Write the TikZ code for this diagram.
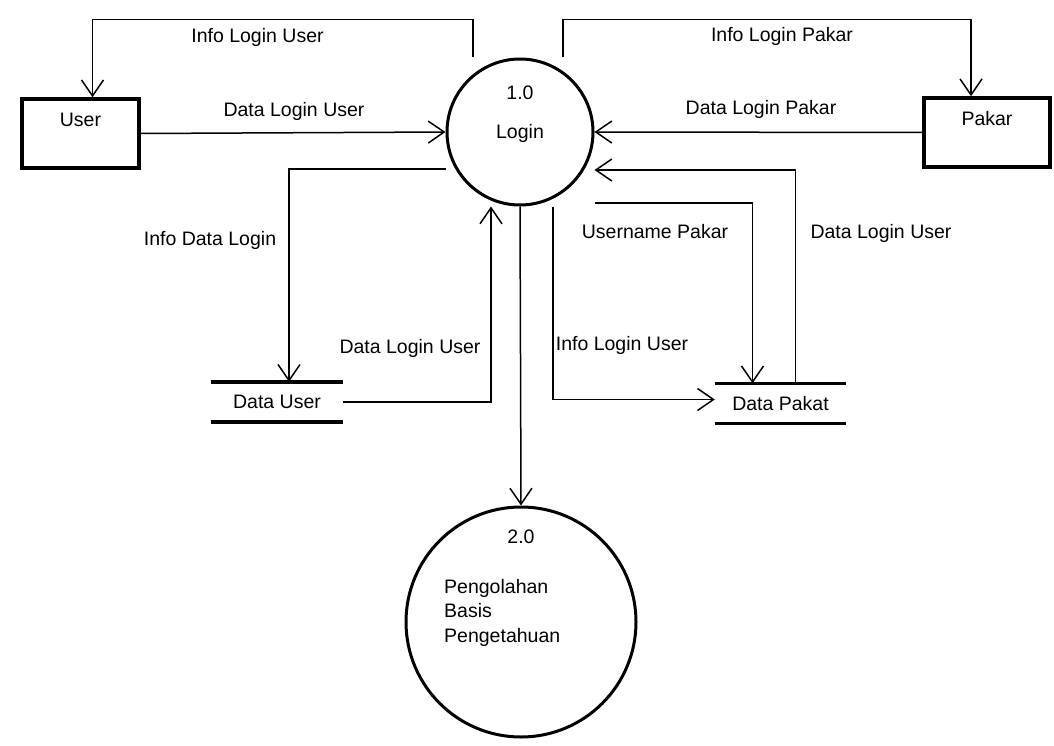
\documentclass[tikz,border=0pt]{standalone}
\usepackage{fontspec}
\setmainfont{Liberation Sans}
\usetikzlibrary{arrows.meta}

\begin{document}
\begin{tikzpicture}[x=1pt,y=-1pt,
    every node/.style={font=\fontsize{19.5}{24.5}\selectfont}]

      \useasboundingbox (0,0) rectangle (1054,746);

      \begin{scope}[entity/.style={draw,line width=3.5pt,inner sep=0pt,text height=28pt,text depth=41pt},
          process/.style={circle,draw,line width=3pt,inner sep=0pt},
          datastore/.style={minimum width=131pt,minimum height=40pt,inner sep=0pt}]
        \node[entity,minimum width=117pt] (user) at (80.5,133.5) {User};
        \node[entity,minimum width=126pt] (pakar) at (987,132.5) {Pakar};
        \node[process,minimum size=146pt] (login) at (520,132) {};
        \node[process,minimum size=230pt] (proc2) at (521,622) {};
        \node[datastore] (duser) at (277,402) {Data User};
        \node[datastore] (dpakat) at (780.5,403.5) {Data Pakat};
      \end{scope}

      \draw[line width=3.5pt] (duser.north west) -- (duser.north east)
        (duser.south west) -- (duser.south east);
      \draw[line width=3.5pt] (dpakat.north west) -- (dpakat.north east)
        (dpakat.south west) -- (dpakat.south east);

      \node[anchor=base] (lnum) at (520,100) {1.0};
      \node[anchor=base] (lname) at (520,139) {Login};
      \node[anchor=base] (pnum) at (521,543) {2.0};
      \node[anchor=north west,align=left,inner sep=0pt] (pname) at (444,579) {Pengolahan\\Basis\\Pengetahuan};

      \begin{scope}[>={Straight Barb[length=16pt,width=22pt]},
          every path/.style={line width=1.5pt}]
        \draw[->] ([xshift=-47pt]login.north) -- ++(0,-38) -| ([xshift=12pt]user.north);
        \draw[->] ([xshift=43pt]login.north) -- ++(0,-38) -| ([xshift=-16pt]pakar.north);
        \draw[->] (user.east) -- (login.west);
        \draw[->] (pakar.west) -- (login.east);
        \draw[->] ([yshift=-37pt]login.west) -| ([xshift=12pt]duser.north);
        \draw[->] (duser.east) -| ([xshift=-29pt]login.south);
        \draw[->] (login.south) -- (proc2.north);
        \draw[->] ([xshift=33pt]login.south) |- ([yshift=4pt]dpakat.west);
        \draw[->] ([yshift=-71pt]login.east) -| ([xshift=-28pt]dpakat.north);
        \draw[->] ([xshift=15pt]dpakat.north) |- ([yshift=-38pt]login.east);
      \end{scope}

      \begin{scope}[every node/.style={anchor=base,font=\fontsize{19.5}{24.5}\selectfont}]
        \node (infouser) at (257.5,43) {Info Login User};
        \node (infopakar) at (782,42) {Info Login Pakar};
        \node (datauser) at (294,117) {Data Login User};
        \node (datapakar) at (761,115) {Data Login Pakar};
        \node (infodata) at (210,245) {Info Data Login};
        \node (datausermid) at (410,353) {Data Login User};
        \node (unamepakar) at (655,238) {Username Pakar};
        \node (datauserright) at (881,238) {Data Login User};
        \node (infousermid) at (622,350) {Info Login User};
      \end{scope}

    \end{tikzpicture}
\end{document}
